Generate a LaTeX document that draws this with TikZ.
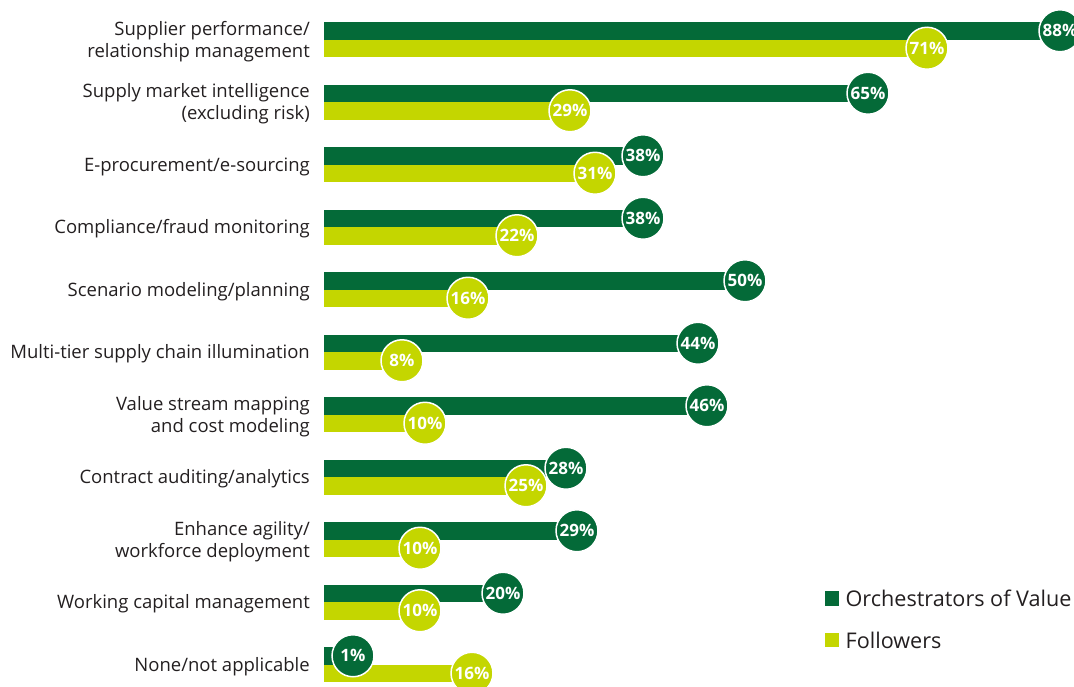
\documentclass[tikz,border=0pt]{standalone}
\usepackage{fontspec}
\setmainfont{Open Sans}
\usetikzlibrary{positioning}

\definecolor{orchestrator}{HTML}{046A38}
\definecolor{follower}{HTML}{C4D600}
\definecolor{labeltext}{HTML}{231F20}

\tikzset{
  bubble/.style={circle, draw=white, line width=1.5pt, minimum size=42pt,
    inner sep=0pt, text=white, font=\fontsize{17}{18}\selectfont\bfseries},
  catlabel/.style={align=right, anchor=east, inner sep=0pt, text=labeltext,
    font=\fontsize{18.5}{22}\selectfont},
  keybox/.style={minimum size=14.5pt, inner sep=0pt},
  keytext/.style={anchor=west, inner sep=0pt, text=labeltext,
    font=\fontsize{21.6}{24}\selectfont},
}

\begin{document}
\begin{tikzpicture}[x=1pt, y=-1pt]
  \useasboundingbox (0,0) rectangle (1074,686);

  % label / orchestrators value / bar end / followers value / bar end
  \foreach \lab/\ov/\ox/\fv/\fx [count=\i from 0] in {
      {Supplier performance/\\relationship management}/88/1060/71/927,
      {Supply market intelligence\\(excluding risk)}/65/868/29/570,
      {E-procurement/e-sourcing}/38/643/31/595,
      {Compliance/fraud monitoring}/38/643/22/517,
      {Scenario modeling/planning}/50/745/16/468,
      {Multi-tier supply chain illumination}/44/698/8/402,
      {Value stream mapping\\and cost modeling}/46/707/10/425,
      {Contract auditing/analytics}/28/566/25/526,
      {Enhance agility/\\workforce deployment}/29/577/10/420,
      {Working capital management}/20/503/10/420,
      {None/not applicable}/1/353/16/472}
  {
    \pgfmathsetmacro{\yc}{39.5+62.5*\i}
    \node[catlabel] (lab\i) at (310,\yc+2) {\lab};
    \fill[orchestrator] (324,\yc-17.5) rectangle (\ox,\yc);
    \fill[follower] (324,\yc) rectangle (\fx,\yc+17.5);
    \node[bubble, fill=orchestrator] (ov\i) at (\ox,\yc-8.75) {\ov\%};
    \node[bubble, fill=follower] (fv\i) at (\fx,\yc+8.75) {\fv\%};
  }

  % legend
  \node[keybox, fill=orchestrator] (keyov) at (832,598.5) {};
  \node[keytext, right=6pt of keyov] (keyovtext) {Orchestrators of Value};
  \node[keybox, fill=follower] (keyfv) at (832,640) {};
  \node[keytext, right=6pt of keyfv] (keyfvtext) {Followers};
\end{tikzpicture}
\end{document}
